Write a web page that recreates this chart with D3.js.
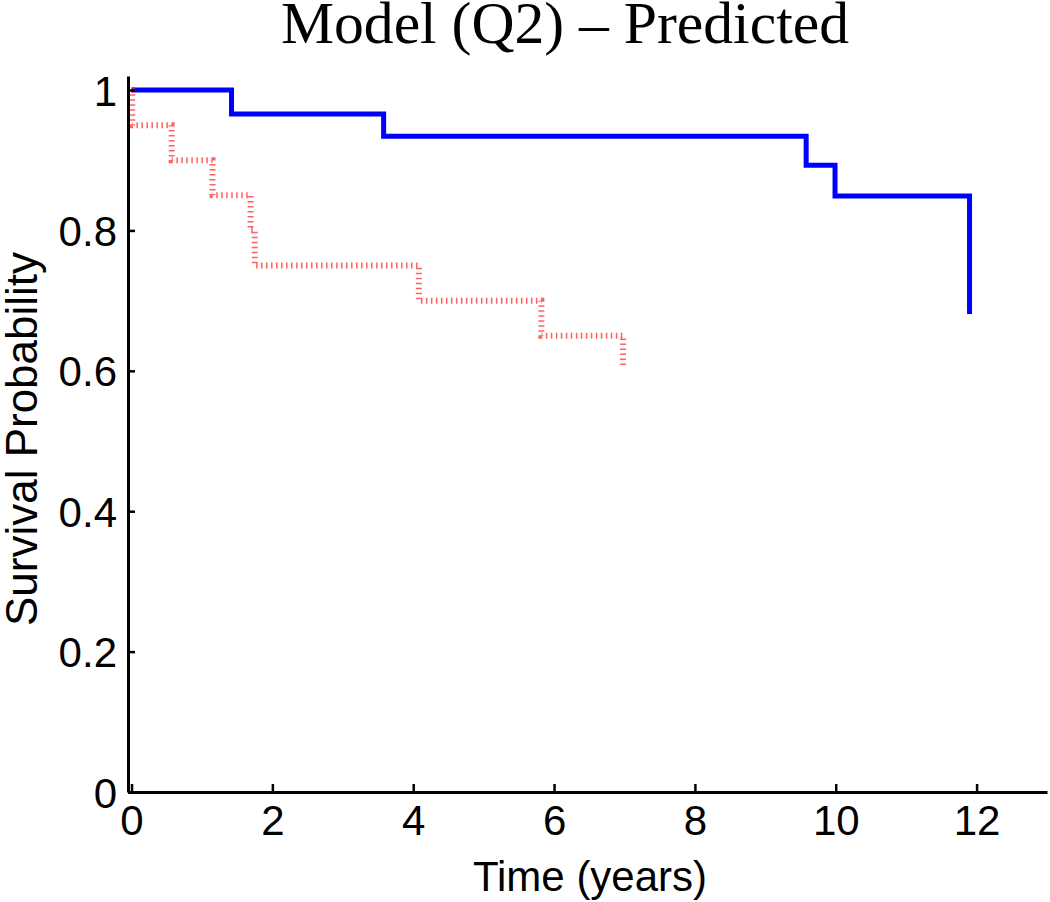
<!DOCTYPE html>
<html>
<head>
<meta charset="utf-8">
<script src="https://cdn.jsdelivr.net/npm/d3@7"></script>
<style>
  html, body { margin: 0; padding: 0; background: #fff; }
  svg { display: block; }
</style>
</head>
<body>
<svg id="chart" width="1050" height="902"></svg>
<script>
// ---- data ----
const titleText = "Model (Q2) \u2013 Predicted";
const xLabel = "Time (years)";
const yLabel = "Survival Probability";
const xTicks = [0, 2, 4, 6, 8, 10, 12];
const yTicks = [0, 0.2, 0.4, 0.6, 0.8, 1];

// Series 1 (blue solid): event times and survival after each event
const blueTimes = [0, 1.42, 3.58, 9.58, 9.99, 11.9];
const blueSurv  = [1, 0.966, 0.934, 0.893, 0.849, 0.681];

// Series 2 (red dotted)
const redTimes = [0, 0.01, 0.57, 1.15, 1.69, 1.75, 4.08, 5.82, 6.98];
const redSurv  = [1, 0.95, 0.90, 0.85, 0.80, 0.75, 0.70, 0.65, 0.604];

// ---- drawing ----
const svg = d3.select("#chart");
const x = d3.scaleLinear().domain([-0.05, 13]).range([128, 1047]);
const y = d3.scaleLinear().domain([0, 1.02]).range([792, 76]);

const line = d3.line()
  .x(d => x(d[0]))
  .y(d => y(d[1]))
  .curve(d3.curveStepAfter);

const blueData = blueTimes.map((t, i) => [t, blueSurv[i]]);
const redData = redTimes.map((t, i) => [t, redSurv[i]]);

svg.append("path")
  .datum(blueData)
  .attr("d", line)
  .attr("fill", "none")
  .attr("stroke", "#0000ff")
  .attr("stroke-width", 5)
  .attr("stroke-linejoin", "miter");

svg.append("path")
  .datum(redData)
  .attr("d", line)
  .attr("fill", "none")
  .attr("stroke", "#ff2020")
  .attr("stroke-opacity", 0.7)
  .attr("stroke-width", 6)
  .attr("stroke-dasharray", "1.5 3.5");

// Axes
const fmtY = d => (d === 0 || d === 1) ? String(d) : d.toFixed(1);

const xAxis = d3.axisBottom(x).tickValues(xTicks).tickSizeInner(-8).tickSizeOuter(0).tickPadding(13);
const yAxis = d3.axisLeft(y).tickValues(yTicks).tickFormat(fmtY).tickSizeInner(-7).tickSizeOuter(0).tickPadding(11);

const gx = svg.append("g").attr("transform", `translate(0,${y(0)})`).call(xAxis);
const gy = svg.append("g").attr("transform", `translate(${x(-0.05)},0)`).call(yAxis);

[gx, gy].forEach(g => {
  g.select(".domain").attr("stroke", "#000").attr("stroke-width", 3);
  g.selectAll(".tick line").attr("stroke", "#000").attr("stroke-width", 2.5);
  g.selectAll(".tick text")
    .attr("fill", "#000")
    .style("font-family", "'Liberation Sans', Arial, sans-serif")
    .style("font-size", "42px");
});
gx.selectAll(".tick text").attr("dy", "0.71em");
gy.selectAll(".tick text").attr("dy", "0.36em");

// Title
svg.append("text")
  .attr("x", 281)
  .attr("y", 43)
  .attr("textLength", 568)
  .attr("lengthAdjust", "spacingAndGlyphs")
  .style("font-family", "'Liberation Serif', 'Times New Roman', serif")
  .style("font-size", "59px")
  .attr("fill", "#000")
  .text(titleText);

// X label
svg.append("text")
  .attr("x", 590)
  .attr("y", 891)
  .attr("text-anchor", "middle")
  .style("font-family", "'Liberation Sans', Arial, sans-serif")
  .style("font-size", "42px")
  .attr("fill", "#000")
  .text(xLabel);

// Y label
svg.append("text")
  .attr("transform", `translate(37,${(245 + 633) / 2}) rotate(-90)`)
  .attr("text-anchor", "middle")
  .style("font-family", "'Liberation Sans', Arial, sans-serif")
  .style("font-size", "44px")
  .attr("fill", "#000")
  .text(yLabel);
</script>
</body>
</html>
